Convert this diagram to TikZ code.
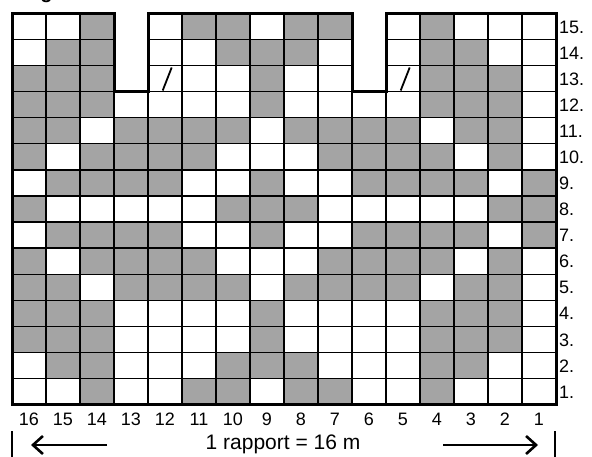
\documentclass[tikz,border=0pt]{standalone}
\usepackage{fontspec}
\setmainfont{Liberation Sans}
\usetikzlibrary{arrows.meta}
\definecolor{cellgray}{RGB}{164,164,164}
\begin{document}
\begin{tikzpicture}[x=1pt,y=-1pt,
  cellline/.style={draw=black,line width=1.3pt},
  outline/.style={draw=black,line width=3pt,line join=miter},
  numlabel/.style={font=\fontsize{18}{21}\selectfont,inner sep=0pt},
  rapportlabel/.style={font=\fontsize{21}{24}\selectfont,inner sep=0pt},
  widthbar/.style={draw=black,line width=2.6pt},
  rarrow/.style={draw=black,line width=2.6pt,-{Straight Barb[length=10pt,width=18pt,line width=2.6pt]}},
  slashmark/.style={draw=black,line width=1.8pt}]
\useasboundingbox (0,0) rectangle (592,457);
\def\cw{34}
\def\rh{26.07}
% heading (only the descender shows)
\begin{scope}
\clip (0,0) rectangle (592,457);
\node[anchor=base west,inner sep=0pt,font=\bfseries\fontsize{20}{24}\selectfont] (title) at (9,-1) {Diagram};
\end{scope}
% cells: 0 white, 1 grey, 2 none
\foreach \r/\pat in {
 15/{0,0,1,2,0,1,1,0,1,1,2,0,1,0,0,0},
 14/{0,1,1,2,0,0,1,1,1,0,2,0,1,1,0,0},
 13/{1,1,1,2,0,0,0,1,0,0,2,0,1,1,1,0},
 12/{1,1,1,0,0,0,0,1,0,0,0,0,1,1,1,0},
 11/{1,1,0,1,1,1,1,0,1,1,1,1,0,1,1,0},
 10/{1,0,1,1,1,1,0,0,0,1,1,1,1,0,1,0},
 9/{0,1,1,1,1,0,0,1,0,0,1,1,1,1,0,1},
 8/{1,0,0,0,0,0,1,1,1,0,0,0,0,0,1,1},
 7/{0,1,1,1,1,0,0,1,0,0,1,1,1,1,0,1},
 6/{1,0,1,1,1,1,0,0,0,1,1,1,1,0,1,0},
 5/{1,1,0,1,1,1,1,0,1,1,1,1,0,1,1,0},
 4/{1,1,1,0,0,0,0,1,0,0,0,0,1,1,1,0},
 3/{1,1,1,0,0,0,0,1,0,0,0,0,1,1,1,0},
 2/{0,1,1,0,0,0,1,1,1,0,0,0,1,1,0,0},
 1/{0,0,1,0,0,1,1,0,1,1,0,0,1,0,0,0}} {
  \pgfmathsetmacro\yt{13.5+\rh*(15-\r)}
  \foreach \v [count=\i from 0] in \pat {
    \pgfmathsetmacro\xl{12+\cw*\i}
    \ifnum\v=1
      \path[fill=cellgray,cellline] (\xl,\yt) rectangle ++(\cw,\rh);
    \fi
    \ifnum\v=0
      \path[fill=white,cellline] (\xl,\yt) rectangle ++(\cw,\rh);
    \fi
  }
  \node[numlabel,anchor=west] (row\r) at (559,\yt+\rh/2+0.5) {\r.};
}
% thick outline with the two notches
\path[outline] (12,13.5) -- (114,13.5) -- (114,91.7) -- (148,91.7) -- (148,13.5)
  -- (352,13.5) -- (352,91.7) -- (386,91.7) -- (386,13.5) -- (556,13.5)
  -- (556,404.5) -- (12,404.5) -- cycle;
% slash symbols in row 13
\draw[slashmark] (162.7,90.5) -- (171.7,67.5);
\draw[slashmark] (400.7,90.5) -- (409.7,67.5);
% column numbers
\foreach \c [count=\i from 0] in {16,15,...,1} {
  \node[numlabel] (col\c) at (12+\cw*\i+\cw/2,419) {\c};
}
% rapport
\node[rapportlabel] (rapport) at (283,444) {1 rapport = 16 m};
\coordinate (lbtop) at (12,431);
\coordinate (lbbot) at (12,457);
\coordinate (rbtop) at (555,431);
\coordinate (rbbot) at (555,457);
\coordinate (latail) at (107,445);
\coordinate (lahead) at (31,445);
\coordinate (ratail) at (443,445);
\coordinate (rahead) at (538,445);
\draw[widthbar] (lbtop) -- (lbbot);
\draw[widthbar] (rbtop) -- (rbbot);
\draw[rarrow] (latail) -- (lahead);
\draw[rarrow] (ratail) -- (rahead);
\end{tikzpicture}
\end{document}
